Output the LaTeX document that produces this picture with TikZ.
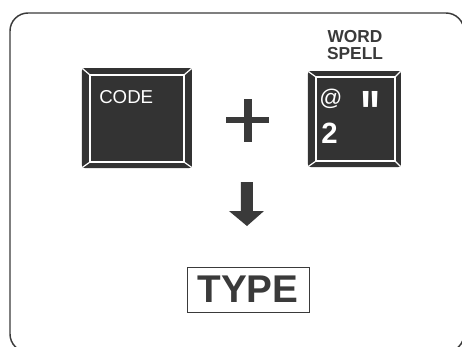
\documentclass[tikz,border=0pt]{standalone}
\usepackage{fontspec}
\setmainfont{Liberation Sans}
\definecolor{ink}{HTML}{3A3A3A}
\definecolor{keyfill}{HTML}{333333}
\tikzset{
  bevel/.style={draw=white, line width=0.9pt, line join=round},
  keylabel/.style={text=white, inner sep=0pt},
  caption/.style={text=ink, inner sep=0pt, align=center}
}
\begin{document}
\begin{tikzpicture}[x=0.75pt, y=-0.75pt]
  \useasboundingbox (0,0) rectangle (462,347);
  \clip (0,0) rectangle (462,347);
  % outer frame
  \draw[ink, line width=1.1pt, rounded corners=13.5pt] (10,13) rectangle (464,352);
  % the two keys
  \foreach \xa/\ya/\xb/\yb/\xc/\yc/\xd/\yd in {82/68/192/168/90/75/184/162, 308/71/401/167/316/77/395/161}{
    \fill[keyfill, rounded corners=2pt] (\xa,\ya) rectangle (\xb,\yb);
    \draw[bevel] (\xc,\yc) rectangle (\xd,\yd);
    \draw[bevel] (\xa+1,\ya+1) -- (\xc,\yc);
    \draw[bevel] (\xb-1,\ya+1) -- (\xd,\yc);
    \draw[bevel] (\xa+1,\yb-1) -- (\xc,\yd);
    \draw[bevel] (\xb-1,\yb-1) -- (\xd,\yd);
  }
  \node[keylabel, anchor=base west, font=\fontsize{14}{14}\selectfont] (code) at (99,103) {CODE};
  \node[caption, font=\bfseries\fontsize{13}{13.1}\selectfont] (wordspell) at (355,45) {WORD\\SPELL};
  \node[keylabel, font=\fontsize{17}{17}\selectfont] (at) at (331,99) {@};
  \node[keylabel, font=\bfseries\fontsize{32}{32}\selectfont, yscale=1.5] (quote) at (371,113) {\textquotedbl};
  \node[keylabel, anchor=base west, font=\bfseries\fontsize{22}{22}\selectfont] (two) at (321,143) {2};
  % plus sign
  \fill[ink] (226,117) rectangle (269,123);
  \fill[ink] (244,99) rectangle (252,142);
  % arrow down
  \fill[ink] (241,182) -- (253,182) -- (253,211) -- (264,211) -- (247,226) -- (229,211) -- (241,211) -- cycle;
  % result box
  \node[caption, draw=ink, line width=0.6pt, minimum width=91.5pt, minimum height=33.75pt,
        font=\bfseries\fontsize{29}{29}\selectfont] (type) at (248,289.5) {TYPE};
\end{tikzpicture}
\end{document}
